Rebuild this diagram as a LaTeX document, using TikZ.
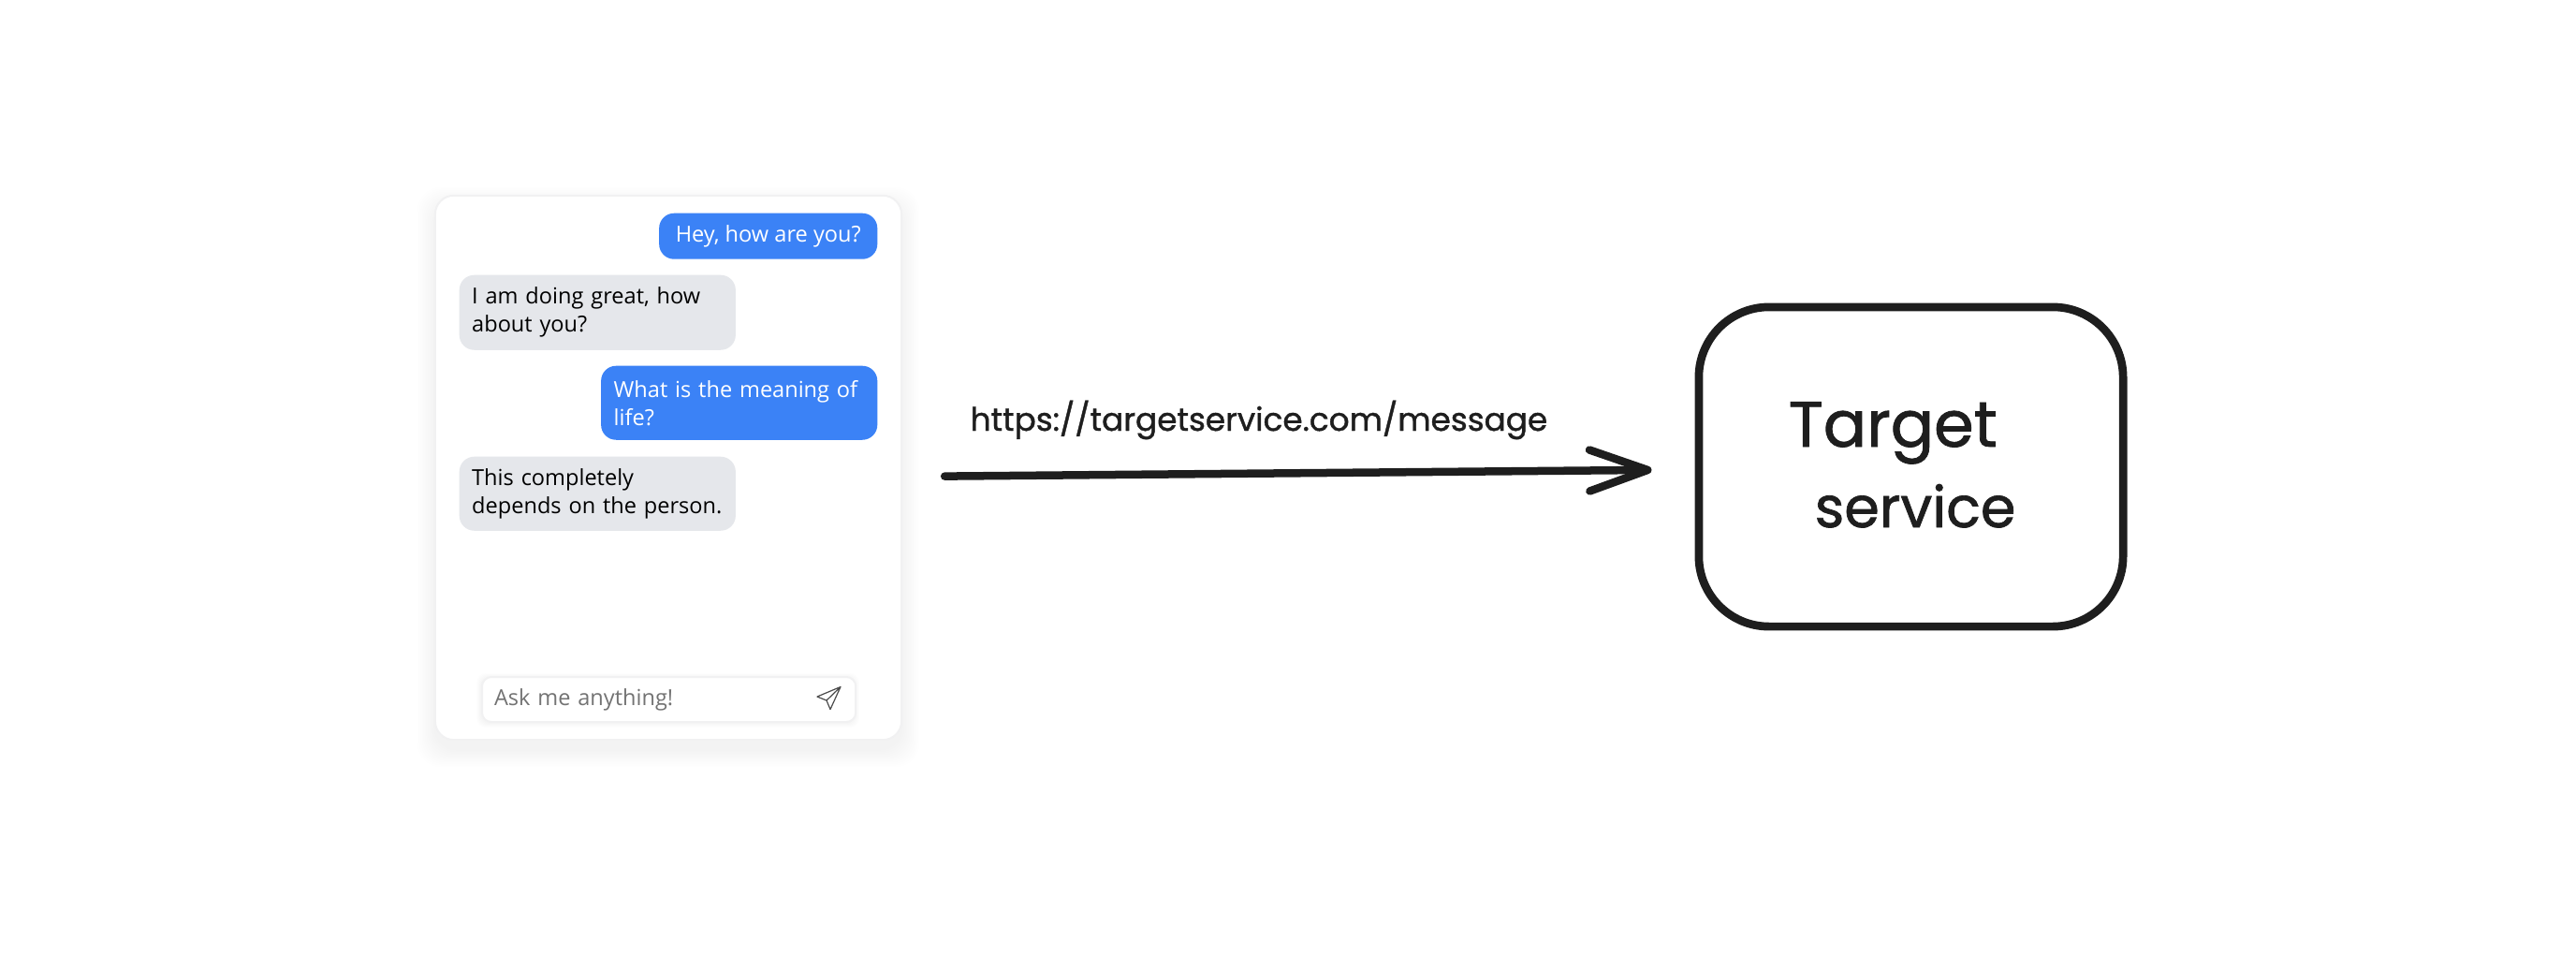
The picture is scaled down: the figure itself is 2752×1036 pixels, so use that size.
\documentclass[tikz,border=0pt]{standalone}
\usepackage{fontspec}
\setmainfont{Open Sans}
\newfontfamily\handfont[FakeBold=1.2]{Poppins}
\usetikzlibrary{arrows.meta}
\definecolor{bubbleblue}{HTML}{3B82F6}
\definecolor{bubblegray}{HTML}{E5E7EB}
\definecolor{hintgray}{HTML}{737373}
\definecolor{edgegray}{HTML}{F1F1F2}
\definecolor{ink}{HTML}{1E1E1E}
\tikzset{
 bubble/.style={rounded corners=.16cm,inner xsep=.135cm,inner ysep=0pt,align=left,font=\fontsize{6.7pt}{8.53pt}\selectfont},
 sent/.style={bubble,fill=bubbleblue,text=white},
 recv/.style={bubble,fill=bubblegray,text=black},
 flow/.style={draw=ink,line width=.085cm,line cap=round,-{Straight Barb[length=.62cm,width=.44cm,round]}},
 handtext/.style={anchor=base west,inner sep=0pt,text=ink}
}
\begin{document}
\begin{tikzpicture}[x=.01cm,y=-.01cm]
 \useasboundingbox (0,0) rectangle (2752,1036);
 % soft shadow of the chat panel
 \foreach \r in {1,2,...,12}
 \fill[black,opacity=.003,rounded corners=.25cm] (465-\r*1.6,209+10-\r*1.6) rectangle (963+\r*1.6,790+10+\r*1.6);
 \node[draw=edgegray,fill=white,line width=.02cm,rounded corners=.2cm,minimum width=4.98cm,minimum height=5.81cm,inner sep=0pt] (chat) at (714,499.5) {};
 \node[sent,anchor=north east,minimum height=.49cm,minimum width=2.33cm] (msga) at (938,227) {Hey, how are you?};
 \node[recv,anchor=north west,minimum height=.80cm,text width=2.68cm] (msgb) at (490,293) {I am doing great, how\\about you?};
 \node[sent,anchor=north east,minimum height=.79cm,text width=2.68cm] (msgc) at (938,390) {What is the meaning of\\life?};
 \node[recv,anchor=north west,minimum height=.79cm,text width=2.68cm] (msgd) at (490,487) {This completely\\depends on the person.};
 \foreach \r in {1,2,...,5}
 \fill[black,opacity=.006,rounded corners=.1cm] (514-\r,722+2-\r) rectangle (913+\r,770+2+\r);
 \node[draw=edgegray,fill=white,line width=.02cm,rounded corners=.1cm,minimum width=3.99cm,minimum height=.48cm,inner xsep=.13cm,inner ysep=0pt,anchor=north west,text width=3.73cm,align=left,text=hintgray,font=\fontsize{6.7pt}{8.53pt}\selectfont] (askbox) at (514,722) {Ask me anything!};
 % send icon
 \draw[ink!80,line width=.012cm,line join=round] (898,733.5)--(873,744)--(883,748)--(887,757.6)--cycle (883,748)--(898,733.5);
 \node[draw=ink,line width=.087cm,rounded corners=.75cm,minimum width=4.53cm,minimum height=3.41cm,inner sep=0pt] (target) at (2041.5,498.5) {};
 \draw[flow,shorten <=.45cm,shorten >=.46cm] ([yshift=-.095cm]chat.east) -- ([yshift=-.03cm]target.west);
 \node[handtext,font=\handfont\fontsize{9.75pt}{12pt}\selectfont] (url) at (1036,460) {https://targetservice.com/message};
 \node[handtext,font=\handfont\fontsize{19.5pt}{22pt}\selectfont] (tlabela) at (1910,477) {Target};
 \node[handtext,font=\handfont\fontsize{17.2pt}{22pt}\selectfont] (tlabelb) at (1938,563) {service};
\end{tikzpicture}
\end{document}
